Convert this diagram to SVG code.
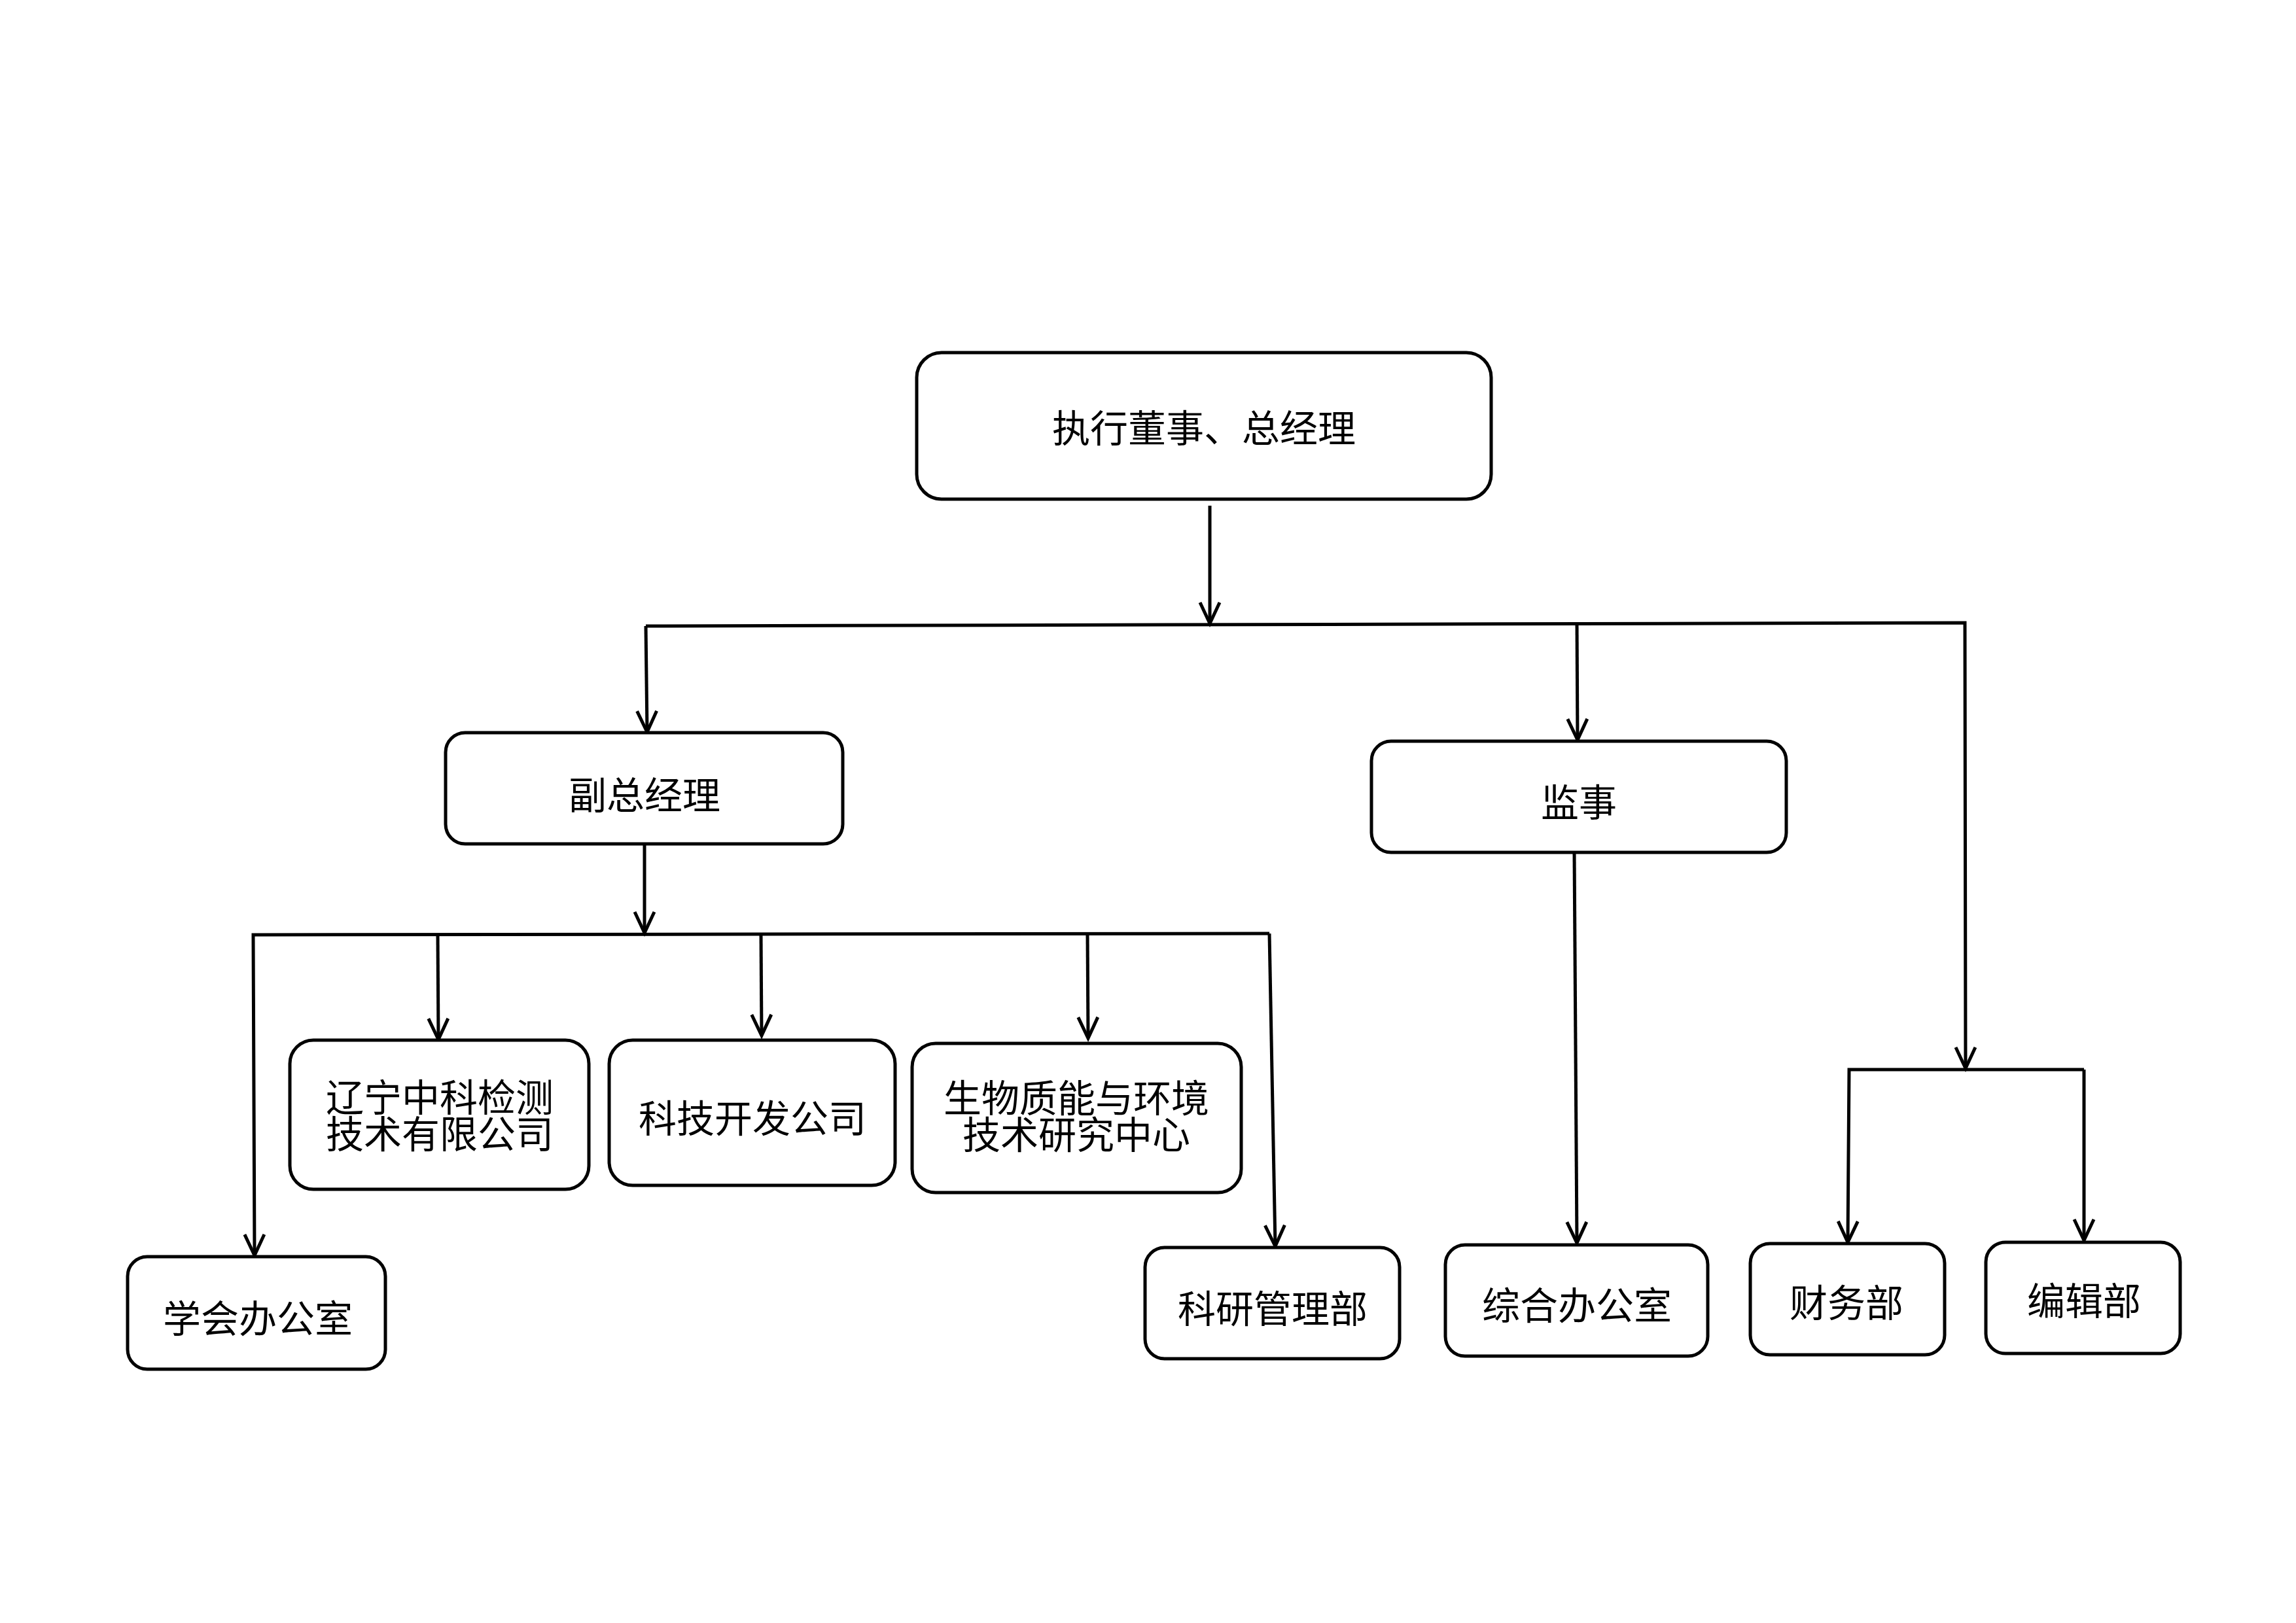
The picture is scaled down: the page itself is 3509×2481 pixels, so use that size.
<svg xmlns="http://www.w3.org/2000/svg" width="3509" height="2481" viewBox="0 0 3509 2481">
<defs>
<style>
.box{fill:#fff;stroke:#000;stroke-width:5}
.lbl{font-family:"Noto Sans CJK SC","Noto Sans CJK TC",sans-serif;font-size:58px;fill:#000;text-anchor:middle;dominant-baseline:central}
.ln{fill:none;stroke:#000;stroke-width:5;stroke-linejoin:miter}
.ar{marker-end:url(#arr)}
</style>
<marker id="arr" markerUnits="userSpaceOnUse" markerWidth="50" markerHeight="50" viewBox="-40 -25 50 50" refX="0" refY="0" orient="auto">
<path d="M-32,-15 L0,0 L-32,15" fill="none" stroke="#000" stroke-width="5"/>
</marker>
</defs>
<rect width="3509" height="2481" fill="#fff"/>
<g id="connectors">
<line class="ln ar" x1="1849" y1="773" x2="1849" y2="953"/>
<polyline class="ln ar" points="987,957 3003,952 3004,1633"/>
<line class="ln ar" x1="987" y1="957" x2="989" y2="1119"/>
<line class="ln ar" x1="2410" y1="954" x2="2411" y2="1131"/>
<polyline class="ln ar" points="3185,1635 2826,1635 2824,1899"/>
<line class="ln ar" x1="3185" y1="1635" x2="3185" y2="1896"/>
<line class="ln ar" x1="985" y1="1290" x2="985" y2="1426"/>
<polyline class="ln ar" points="1940,1427 387,1429 389,1919"/>
<line class="ln ar" x1="1940" y1="1427" x2="1949" y2="1905"/>
<line class="ln ar" x1="669" y1="1429" x2="670" y2="1589"/>
<line class="ln ar" x1="1163" y1="1428" x2="1164" y2="1583"/>
<line class="ln ar" x1="1662" y1="1428" x2="1663" y2="1587"/>
<line class="ln ar" x1="2406" y1="1303" x2="2410" y2="1900"/>
</g>
<g id="n_top"><rect class="box" x="1401" y="539" width="878" height="224" rx="38"/><text class="lbl" x="1840" y="651">执行董事、总经理</text></g>
<g id="n_fuzong"><rect class="box" x="681" y="1120" width="607" height="170" rx="30"/><text class="lbl" x="985" y="1212">副总经理</text></g>
<g id="n_jianshi"><rect class="box" x="2096" y="1133" width="634" height="170" rx="30"/><text class="lbl" x="2413" y="1223">监事</text></g>
<g id="n_liaoning"><rect class="box" x="443" y="1590" width="457" height="228" rx="36"/><text class="lbl" x="672" y="1674">辽宁中科检测</text><text class="lbl" x="672" y="1730">技术有限公司</text></g>
<g id="n_keji"><rect class="box" x="931" y="1590" width="437" height="222" rx="36"/><text class="lbl" x="1150" y="1706">科技开发公司</text></g>
<g id="n_shengwu"><rect class="box" x="1394" y="1595" width="503" height="228" rx="36"/><text class="lbl" x="1645" y="1675">生物质能与环境</text><text class="lbl" x="1645" y="1731">技术研究中心</text></g>
<g id="n_xuehui"><rect class="box" x="195" y="1921" width="394" height="172" rx="30"/><text class="lbl" x="394" y="2012">学会办公室</text></g>
<g id="n_keyan"><rect class="box" x="1750" y="1907" width="389" height="170" rx="30"/><text class="lbl" x="1945" y="1997">科研管理部</text></g>
<g id="n_zonghe"><rect class="box" x="2209" y="1903" width="401" height="170" rx="30"/><text class="lbl" x="2410" y="1992">综合办公室</text></g>
<g id="n_caiwu"><rect class="box" x="2675" y="1901" width="297" height="170" rx="30"/><text class="lbl" x="2822" y="1988">财务部</text></g>
<g id="n_bianji"><rect class="box" x="3035" y="1899" width="297" height="170" rx="30"/><text class="lbl" x="3185" y="1985">编辑部</text></g>
</svg>
